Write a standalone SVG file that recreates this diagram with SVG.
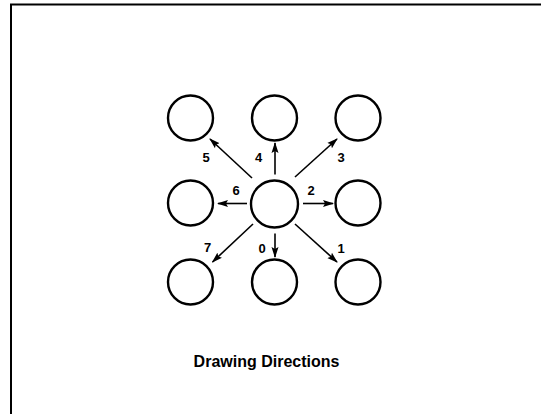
<svg xmlns="http://www.w3.org/2000/svg" width="541" height="414" viewBox="0 0 541 414">
<style>
.n{fill:none;stroke:#000;stroke-width:2.4}
.c line{stroke:#000;stroke-width:1.6;marker-end:url(#ah)}
.l{font-family:"Liberation Sans",Arial,sans-serif;font-weight:bold;font-size:13px;text-anchor:middle;fill:#000}
.t{font-family:"Liberation Sans",Arial,sans-serif;font-weight:bold;font-size:16px;text-anchor:middle;fill:#000}
</style>
<defs>
<marker id="ah" markerUnits="userSpaceOnUse" markerWidth="11" markerHeight="8" refX="10" refY="4" orient="auto">
<path d="M0,0.5 L11,4 L0,7.5 L2,4 Z" fill="#000"/>
</marker>
</defs>
<rect x="11" y="4.5" width="540" height="420" fill="none" stroke="#000" stroke-width="2"/>
<g id="c5"><circle class="n" cx="190.5" cy="118" r="22.5"/></g>
<g id="c4"><circle class="n" cx="274.5" cy="118" r="22.5"/></g>
<g id="c3"><circle class="n" cx="358" cy="118" r="22.5"/></g>
<g id="c6"><circle class="n" cx="190.5" cy="203" r="22.5"/></g>
<g id="center"><circle class="n" cx="274.5" cy="204" r="23.5"/></g>
<g id="c2"><circle class="n" cx="358" cy="203" r="22.5"/></g>
<g id="c7"><circle class="n" cx="190.5" cy="282" r="22.5"/></g>
<g id="c0"><circle class="n" cx="274.5" cy="282" r="22.5"/></g>
<g id="c1"><circle class="n" cx="358" cy="282" r="22.5"/></g>
<g id="connectors" class="c">
<line x1="252" y1="178" x2="210" y2="139"/>
<line x1="275" y1="174.5" x2="275" y2="143"/>
<line x1="295" y1="177" x2="337" y2="139"/>
<line x1="247" y1="203.5" x2="218" y2="203.5"/>
<line x1="303" y1="203.5" x2="333" y2="203.5"/>
<line x1="253" y1="224" x2="212.5" y2="262"/>
<line x1="275" y1="233.5" x2="275" y2="257"/>
<line x1="295" y1="224" x2="337" y2="262"/>
</g>
<g id="labels">
<text class="l" x="206" y="161.5">5</text>
<text class="l" x="258.5" y="161.5">4</text>
<text class="l" x="341" y="161.5">3</text>
<text class="l" x="236" y="195">6</text>
<text class="l" x="311" y="195">2</text>
<text class="l" x="207.5" y="251.5">7</text>
<text class="l" x="262" y="253">0</text>
<text class="l" x="341" y="253">1</text>
</g>
<text class="t" x="266.5" y="366.5">Drawing Directions</text>
</svg>
